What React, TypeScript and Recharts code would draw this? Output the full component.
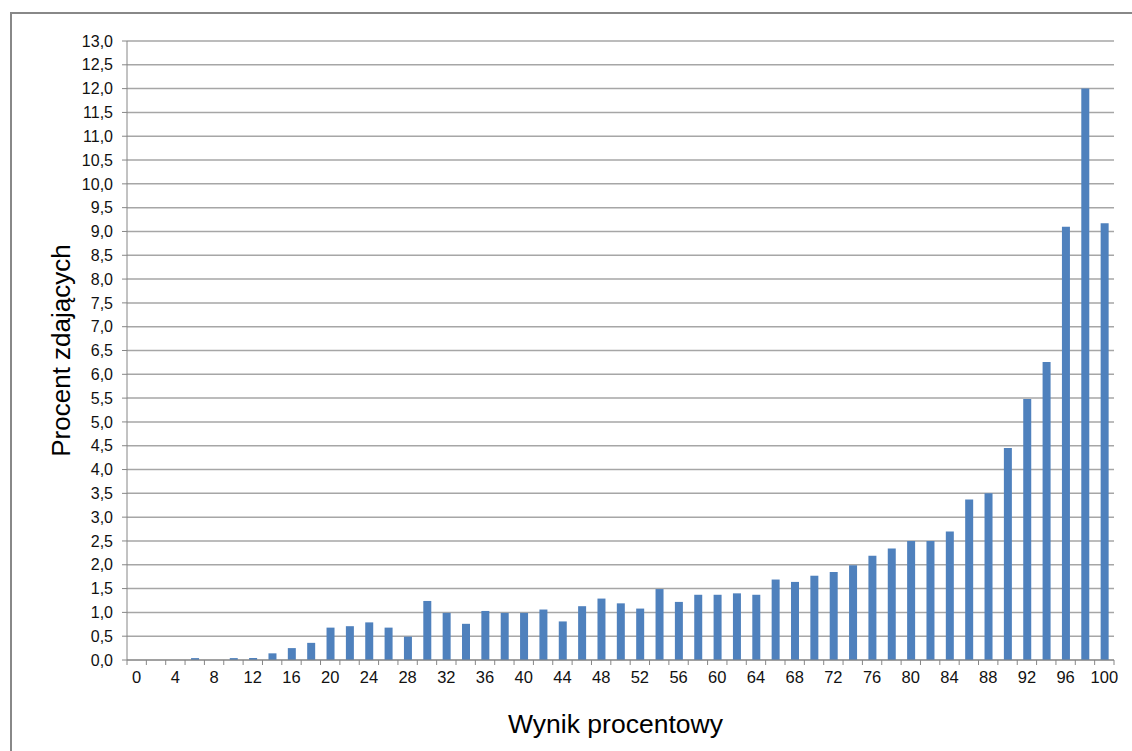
import { BarChart, Bar, XAxis, YAxis, CartesianGrid } from "recharts";

const scores = [
  "0", "2", "4", "6", "8", "10", "12", "14", "16", "18",
  "20", "22", "24", "26", "28", "30", "32", "34", "36", "38",
  "40", "42", "44", "46", "48", "50", "52", "54", "56", "58",
  "60", "62", "64", "66", "68", "70", "72", "74", "76", "78",
  "80", "82", "84", "86", "88", "90", "92", "94", "96", "98", "100",
];

const percents = [
  0, 0, 0, 0.04, 0, 0.04, 0.04, 0.14, 0.25, 0.36,
  0.68, 0.71, 0.79, 0.68, 0.49, 1.24, 0.99, 0.76, 1.03, 0.99,
  0.99, 1.06, 0.81, 1.13, 1.29, 1.19, 1.08, 1.49, 1.22, 1.37,
  1.37, 1.4, 1.37, 1.69, 1.64, 1.77, 1.85, 1.99, 2.19, 2.34,
  2.5, 2.5, 2.7, 3.37, 3.5, 4.45, 5.48, 6.26, 9.1, 12.0, 9.17,
];

const yTicks = [
  0, 0.5, 1, 1.5, 2, 2.5, 3, 3.5, 4, 4.5, 5, 5.5, 6, 6.5,
  7, 7.5, 8, 8.5, 9, 9.5, 10, 10.5, 11, 11.5, 12, 12.5, 13,
];

const data = scores.map((s, i) => ({ score: s, percent: percents[i] }));

const FONT = '"Liberation Sans", Arial, sans-serif';
const AXIS = "#868686";

// Excel-style x ticks: marks on category boundaries, label on every other category
const XTick = (props: any) => {
  const { x, y, payload, index } = props;
  const half = payload?.offset ?? 987 / 51 / 2;
  const last = index === scores.length - 1;
  return (
    <g>
      <line x1={x - half} x2={x - half} y1={y - 8} y2={y - 3} stroke={AXIS} />
      {last && <line x1={x + half} x2={x + half} y1={y - 8} y2={y - 3} stroke={AXIS} />}
      {index % 2 === 0 && (
        <text x={x} y={y + 15} textAnchor="middle" fontSize={16.5} fill="#111" fontFamily={FONT}>
          {payload.value}
        </text>
      )}
    </g>
  );
};

export default function App() {
  return (
    <div style={{ position: "absolute", left: 0, top: 0, width: 1132, height: 751, background: "#fff" }}>
      <div
        style={{
          position: "absolute",
          left: 10,
          top: 12,
          right: 0,
          bottom: 0,
          borderTop: "2px solid #888",
          borderLeft: "2px solid #888",
        }}
      />
      <div style={{ position: "absolute", left: 0, top: 0 }}>
        <BarChart
          width={1132}
          height={751}
          data={data}
          margin={{ top: 41, right: 18, bottom: 0, left: 0 }}
          barSize={8}
        >
          <CartesianGrid vertical={false} stroke="#a6a6a6" strokeWidth={1.5} />
          <XAxis
            dataKey="score"
            interval={0}
            height={91}
            axisLine={{ stroke: AXIS }}
            tickLine={false}
            tick={<XTick />}
            label={{
              value: "Wynik procentowy",
              position: "insideBottom",
              offset: 18,
              dx: -5,
              fontSize: 26.5,
              fill: "#000",
              fontFamily: FONT,
            }}
          />
          <YAxis
            width={127}
            domain={[0, 13]}
            ticks={yTicks}
            interval={0}
            tickFormatter={(v: number) => v.toFixed(1).replace(".", ",")}
            axisLine={{ stroke: AXIS }}
            tickLine={{ stroke: AXIS }}
            tickSize={5}
            tickMargin={9}
            tick={{ fontSize: 16, fill: "#111", fontFamily: FONT }}
            label={{
              value: "Procent zdających",
              angle: -90,
              position: "center",
              dx: -3,
              fontSize: 26,
              fill: "#000",
              fontFamily: FONT,
            }}
          />
          <Bar dataKey="percent" fill="#4f81bd" isAnimationActive={false} />
        </BarChart>
      </div>
    </div>
  );
}
